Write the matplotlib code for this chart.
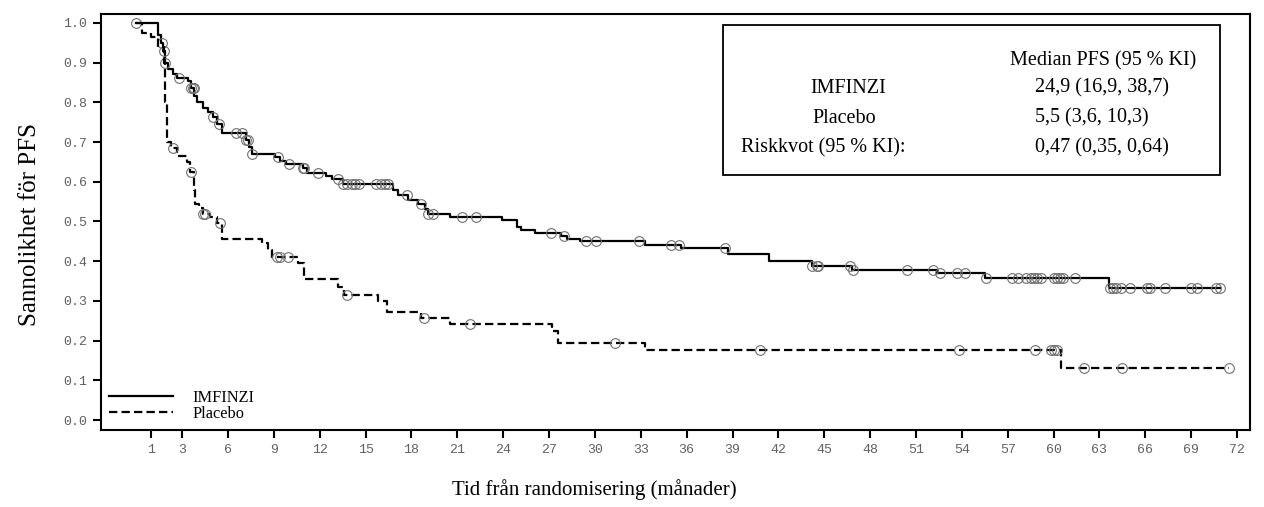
import numpy as np
import matplotlib
matplotlib.use("Agg")
import matplotlib.pyplot as plt

# ---- data ----
imf_times = [0, 1.4, 1.6, 1.75, 1.9, 2.1, 2.4, 2.7, 3.4, 3.6, 3.8, 4.0, 4.4, 4.7, 5.0, 5.3, 5.6,
             7.2, 7.35, 7.6, 9.1, 9.4, 9.8, 10.9, 11.2, 12.4, 12.8, 13.5, 16.8, 17.1, 17.8, 18.4,
             18.9, 19.1, 20.5, 23.9, 24.9, 25.2, 26.1, 27.8, 28.2, 29.0, 33.3, 35.6, 38.7, 41.4,
             44.2, 46.8, 52.4, 55.5, 63.6]
imf_surv = [1.0, 0.97, 0.95, 0.93, 0.90, 0.885, 0.872, 0.862, 0.855, 0.835, 0.815, 0.80, 0.787,
            0.775, 0.762, 0.745, 0.722, 0.705, 0.688, 0.671, 0.662, 0.652, 0.645, 0.635, 0.623,
            0.615, 0.607, 0.595, 0.578, 0.566, 0.553, 0.545, 0.532, 0.52, 0.51, 0.503, 0.487,
            0.478, 0.472, 0.464, 0.457, 0.45, 0.441, 0.432, 0.417, 0.400, 0.389, 0.379, 0.369,
            0.358, 0.333]
imf_end = 70.9
imf_censor = [0, 1.7, 1.8, 1.9, 2.8, 3.6, 3.7, 3.75, 5.0, 5.4, 6.5, 6.9, 7.2, 7.3, 7.6, 9.3, 10.0,
              10.9, 11.0, 11.9, 13.2, 13.5, 13.8, 14.1, 14.3, 14.6, 15.7, 16.0, 16.3, 16.5, 17.7,
              18.6, 19.1, 19.4, 21.3, 22.2, 27.1, 28.0, 29.4, 30.1, 32.9, 35.0, 35.5, 38.5, 44.2,
              44.5, 44.6, 46.7, 46.9, 50.4, 52.1, 52.6, 53.7, 54.2, 55.6, 57.3, 57.7, 58.2, 58.5,
              58.7, 58.9, 59.2, 60.0, 60.2, 60.4, 60.6, 61.4, 63.7, 63.9, 64.1, 64.4, 65.0, 66.1,
              66.3, 67.3, 69.0, 69.4, 70.6, 70.9]

pla_times = [0, 0.4, 1.0, 1.4, 1.85, 1.9, 2.0, 2.3, 2.7, 3.3, 3.55, 3.75, 3.85, 4.1, 4.4, 4.8,
             5.3, 5.6, 8.2, 8.6, 8.9, 10.6, 11.0, 13.2, 13.6, 15.8, 16.4, 18.6, 20.5, 27.2, 27.6,
             33.3, 60.5]
pla_surv = [1.0, 0.975, 0.965, 0.94, 0.90, 0.80, 0.70, 0.686, 0.665, 0.65, 0.625, 0.58, 0.545,
            0.535, 0.52, 0.51, 0.497, 0.457, 0.445, 0.428, 0.41, 0.395, 0.355, 0.335, 0.314,
            0.30, 0.272, 0.257, 0.243, 0.224, 0.194, 0.176, 0.131]
pla_end = 71.5
pla_censor = [2.4, 3.6, 4.4, 4.5, 5.5, 9.2, 9.4, 9.9, 13.8, 18.8, 21.8, 31.3, 40.8, 53.8, 58.8,
              59.8, 60.0, 60.2, 62.0, 64.5, 71.5]

x_ticks = [1, 3, 6, 9, 12, 15, 18, 21, 24, 27, 30, 33, 36, 39, 42, 45, 48, 51, 54, 57, 60, 63,
           66, 69, 72]
y_ticks = [0.0, 0.1, 0.2, 0.3, 0.4, 0.5, 0.6, 0.7, 0.8, 0.9, 1.0]

series_names = ["IMFINZI", "Placebo"]
table_header = "Median PFS (95 % KI)"
table_rows = [("IMFINZI", "24,9 (16,9, 38,7)"),
              ("Placebo", "5,5 (3,6, 10,3)"),
              ("Riskkvot (95 % KI):", "0,47 (0,35, 0,64)")]

# ---- plotting ----
plt.rcParams["lines.scale_dashes"] = False
SERIF = ["Liberation Serif", "DejaVu Serif"]
MONO = ["Liberation Mono", "DejaVu Sans Mono"]

fig = plt.figure(figsize=(12.64, 5.07), dpi=100)
ax = fig.add_axes([0.0799, 0.152, 0.989 - 0.0799, 0.972 - 0.152])


def surv_at(times, surv, t):
    idx = np.searchsorted(np.asarray(times), np.asarray(t), side="right") - 1
    return np.asarray(surv)[idx]


def draw(times, surv, end, censor, ls, label):
    tx = list(times) + [end]
    sy = list(surv) + [surv[-1]]
    ax.step(tx, sy, where="post", color="black", lw=1.6, ls=ls, label=label)
    c = np.asarray(censor)
    ax.plot(c, surv_at(times, surv, c), ls="none", marker="o", ms=7.0, mfc="none",
            mec="#707070", mew=0.8)


draw(imf_times, imf_surv, imf_end, imf_censor, "-", series_names[0])
draw(pla_times, pla_surv, pla_end, pla_censor, (0, (6.0, 3.0)), series_names[1])

ax.set_xlim(-2.3, 72.85)
ax.set_ylim(-0.025, 1.022)
ax.set_xticks(x_ticks)
ax.set_yticks(y_ticks)
ax.set_xticklabels([str(v) for v in x_ticks])
ax.set_yticklabels([f"{v:.1f}" for v in y_ticks])
for lab in ax.get_xticklabels() + ax.get_yticklabels():
    lab.set_family(MONO)
    lab.set_fontsize(9.5)
    lab.set_color("#606060")
ax.tick_params(axis="both", direction="out", length=6, width=1.5, color="black", pad=4)
for s in ax.spines.values():
    s.set_linewidth(1.5)

ax.set_xlabel("Tid från randomisering (månader)", family=SERIF, fontsize=15, va="center")
ax.xaxis.set_label_coords((594 - 101) / 1149, (430 - 490) / 416)
ax.set_ylabel("Sannolikhet för PFS", family=SERIF, fontsize=18, va="center")
ax.yaxis.set_label_coords((30 - 101) / 1149, (430 - 224) / 416)

leg = ax.legend(loc="lower left", frameon=False, prop={"family": SERIF, "size": 11.8},
                handlelength=3.9, handletextpad=1.2, labelspacing=0.0, borderaxespad=0.3,
                borderpad=0.2)

# Results box (axes-fraction coordinates)
def ax_x(px):
    return (px - 101) / (1250 - 101)


def ax_y(py):
    return (430 - py) / (430 - 14)


box = plt.Rectangle((ax_x(723), ax_y(175)), ax_x(1220) - ax_x(723), ax_y(25) - ax_y(175),
                    transform=ax.transAxes, fill=False, ec="black", lw=1.3)
ax.add_patch(box)
ax.text(ax_x(1010), ax_y(61), table_header, transform=ax.transAxes, family=SERIF,
        fontsize=14.5, va="center", ha="left")
row_y = [88, 118, 148]
left_centers = [848, 844, 823]
for (lab, val), py, cx in zip(table_rows, row_y, left_centers):
    ax.text(ax_x(cx), ax_y(py), lab, transform=ax.transAxes, family=SERIF, fontsize=14.5,
            va="center", ha="center")
    ax.text(ax_x(1035), ax_y(py), val, transform=ax.transAxes, family=SERIF, fontsize=14.5,
            va="center", ha="left")

fig.savefig("out.png", dpi=100)
